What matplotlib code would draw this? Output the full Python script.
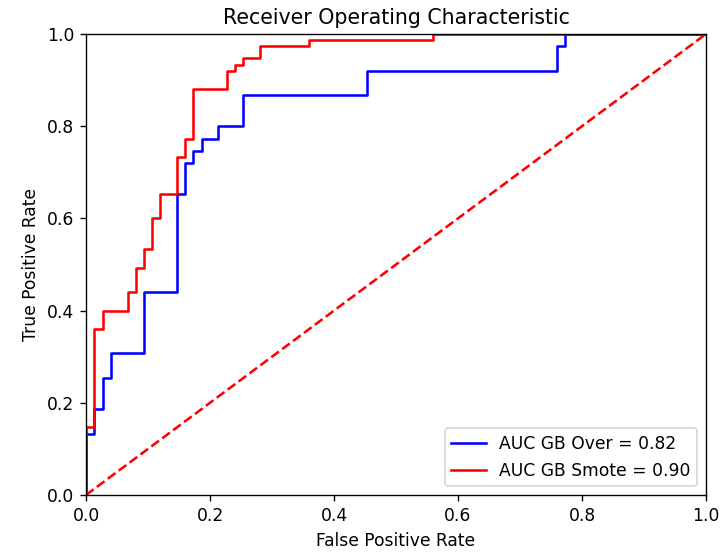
import matplotlib
matplotlib.use("Agg")
import matplotlib.pyplot as plt

# ROC step points (x where curve jumps up to y)
fpr_over = [0.0, 0.0, 0.013, 0.027, 0.040, 0.093, 0.147, 0.160, 0.173, 0.187, 0.213, 0.253, 0.453, 0.760, 0.773, 1.0]
tpr_over = [0.0, 0.133, 0.187, 0.253, 0.307, 0.440, 0.653, 0.720, 0.747, 0.773, 0.800, 0.867, 0.920, 0.973, 1.0, 1.0]

fpr_smote = [0.0, 0.0, 0.013, 0.027, 0.067, 0.080, 0.093, 0.107, 0.120, 0.147, 0.160, 0.173, 0.227, 0.240, 0.253, 0.280, 0.360, 0.560, 1.0]
tpr_smote = [0.0, 0.147, 0.360, 0.400, 0.440, 0.493, 0.533, 0.600, 0.653, 0.733, 0.773, 0.880, 0.920, 0.933, 0.947, 0.973, 0.987, 1.0, 1.0]

auc_over = 0.82
auc_smote = 0.90

DPI = 123
fig = plt.figure(figsize=(727 / DPI, 557 / DPI), dpi=DPI)
ax = fig.add_axes([86/727, 1-495/557, 620/727, 461/557])
ax.plot(fpr_over, tpr_over, 'b', drawstyle='steps-post', label='AUC GB Over = %0.2f' % auc_over)
ax.plot(fpr_smote, tpr_smote, 'r', drawstyle='steps-post', label='AUC GB Smote = %0.2f' % auc_smote)
ax.plot([0, 1], [0, 1], 'r--')
ax.set_xlim([0, 1])
ax.set_ylim([0, 1])
ax.set_title('Receiver Operating Characteristic')
ax.set_xlabel('False Positive Rate')
ax.set_ylabel('True Positive Rate')
ax.legend(loc='lower right')
fig.savefig('out.png', dpi=DPI)
